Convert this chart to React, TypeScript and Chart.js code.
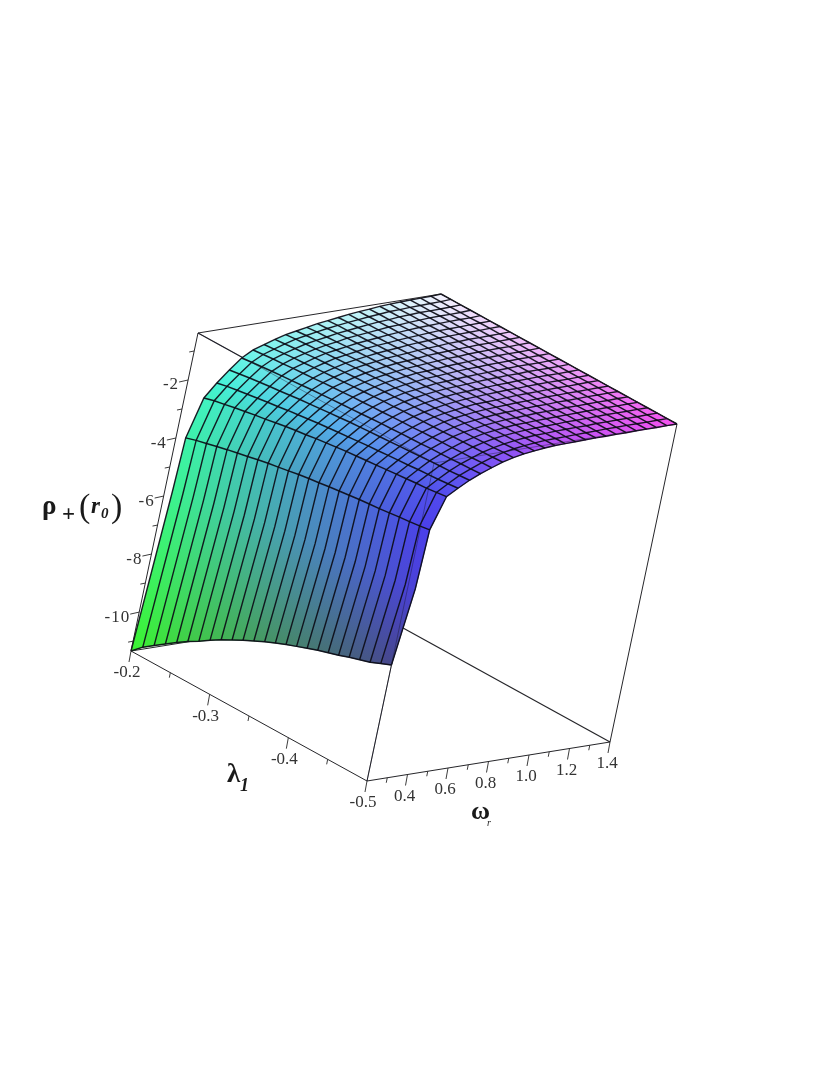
import React, { useEffect, useRef } from "react";
import { Chart, registerables } from "chart.js";

Chart.register(...registerables);

const lambdaValues = [-0.2, -0.2125, -0.225, -0.2375, -0.25, -0.2625, -0.275, -0.2875, -0.3, -0.3125, -0.325, -0.3375, -0.35, -0.3625, -0.375, -0.3875, -0.4, -0.4125, -0.425, -0.4375, -0.45, -0.4625, -0.475, -0.4875, -0.5];
const omegaValues = [0.2, 0.25, 0.3, 0.35, 0.4, 0.45, 0.5, 0.55, 0.6, 0.65, 0.7, 0.75, 0.8, 0.85, 0.9, 0.95, 1.0, 1.05, 1.1, 1.15, 1.2, 1.25, 1.3, 1.35, 1.4];

// rho+(r0): one row per lambda value, one column per omega value
const rhoValues = [
  [-11.34, -4.05, -2.73, -2.27, -1.88, -1.52, -1.30, -1.17, -1.05, -0.94, -0.87, -0.80, -0.73, -0.68, -0.63, -0.58, -0.54, -0.51, -0.47, -0.45, -0.43, -0.42, -0.41, -0.40, -0.38],
  [-11.02, -3.95, -2.64, -2.20, -1.83, -1.48, -1.27, -1.14, -1.02, -0.91, -0.84, -0.77, -0.71, -0.66, -0.61, -0.57, -0.53, -0.50, -0.46, -0.45, -0.43, -0.42, -0.41, -0.40, -0.38],
  [-10.78, -3.87, -2.58, -2.15, -1.78, -1.45, -1.24, -1.11, -0.99, -0.89, -0.82, -0.76, -0.69, -0.65, -0.60, -0.56, -0.52, -0.50, -0.46, -0.44, -0.42, -0.42, -0.41, -0.40, -0.38],
  [-10.54, -3.79, -2.51, -2.10, -1.74, -1.42, -1.22, -1.08, -0.97, -0.87, -0.80, -0.74, -0.67, -0.63, -0.59, -0.55, -0.51, -0.49, -0.46, -0.44, -0.42, -0.41, -0.41, -0.40, -0.38],
  [-10.30, -3.71, -2.45, -2.05, -1.70, -1.39, -1.19, -1.06, -0.94, -0.84, -0.78, -0.72, -0.66, -0.62, -0.58, -0.54, -0.51, -0.48, -0.45, -0.44, -0.42, -0.41, -0.40, -0.40, -0.38],
  [-10.08, -3.64, -2.39, -2.00, -1.67, -1.37, -1.17, -1.03, -0.92, -0.82, -0.76, -0.70, -0.64, -0.60, -0.57, -0.53, -0.50, -0.48, -0.45, -0.43, -0.42, -0.41, -0.40, -0.39, -0.38],
  [-9.88, -3.57, -2.34, -1.96, -1.63, -1.34, -1.15, -1.01, -0.90, -0.80, -0.74, -0.68, -0.63, -0.59, -0.56, -0.52, -0.49, -0.47, -0.44, -0.43, -0.42, -0.41, -0.40, -0.39, -0.38],
  [-9.66, -3.50, -2.28, -1.91, -1.59, -1.31, -1.12, -0.99, -0.88, -0.78, -0.72, -0.67, -0.61, -0.58, -0.55, -0.51, -0.49, -0.47, -0.44, -0.43, -0.41, -0.41, -0.40, -0.39, -0.38],
  [-9.46, -3.43, -2.22, -1.87, -1.56, -1.29, -1.10, -0.97, -0.86, -0.77, -0.71, -0.65, -0.60, -0.57, -0.54, -0.50, -0.48, -0.46, -0.44, -0.43, -0.41, -0.41, -0.40, -0.39, -0.38],
  [-9.28, -3.38, -2.17, -1.83, -1.53, -1.27, -1.08, -0.95, -0.84, -0.75, -0.69, -0.64, -0.59, -0.56, -0.53, -0.50, -0.47, -0.46, -0.43, -0.42, -0.41, -0.40, -0.40, -0.39, -0.38],
  [-9.10, -3.32, -2.13, -1.79, -1.50, -1.25, -1.06, -0.93, -0.82, -0.73, -0.67, -0.62, -0.57, -0.55, -0.52, -0.49, -0.47, -0.45, -0.43, -0.42, -0.41, -0.40, -0.40, -0.39, -0.38],
  [-8.94, -3.26, -2.08, -1.76, -1.47, -1.23, -1.05, -0.91, -0.80, -0.72, -0.66, -0.61, -0.56, -0.54, -0.51, -0.48, -0.46, -0.45, -0.43, -0.42, -0.41, -0.40, -0.40, -0.39, -0.38],
  [-8.78, -3.21, -2.04, -1.73, -1.44, -1.21, -1.03, -0.89, -0.79, -0.70, -0.65, -0.60, -0.55, -0.53, -0.50, -0.48, -0.46, -0.45, -0.43, -0.42, -0.40, -0.40, -0.40, -0.39, -0.38],
  [-8.64, -3.17, -2.00, -1.70, -1.42, -1.19, -1.02, -0.88, -0.77, -0.69, -0.63, -0.58, -0.54, -0.52, -0.50, -0.47, -0.45, -0.44, -0.42, -0.42, -0.40, -0.40, -0.40, -0.39, -0.38],
  [-8.50, -3.12, -1.96, -1.67, -1.40, -1.17, -1.00, -0.86, -0.76, -0.68, -0.62, -0.57, -0.53, -0.51, -0.49, -0.47, -0.45, -0.44, -0.42, -0.41, -0.40, -0.40, -0.40, -0.39, -0.38],
  [-8.38, -3.08, -1.93, -1.64, -1.38, -1.16, -0.99, -0.85, -0.75, -0.67, -0.61, -0.56, -0.52, -0.50, -0.48, -0.46, -0.44, -0.44, -0.42, -0.41, -0.40, -0.40, -0.40, -0.39, -0.38],
  [-8.26, -3.04, -1.90, -1.62, -1.36, -1.14, -0.98, -0.84, -0.73, -0.66, -0.60, -0.55, -0.51, -0.50, -0.48, -0.46, -0.44, -0.43, -0.42, -0.41, -0.40, -0.40, -0.39, -0.38, -0.38],
  [-8.14, -3.00, -1.87, -1.59, -1.34, -1.13, -0.96, -0.83, -0.72, -0.64, -0.59, -0.54, -0.51, -0.49, -0.47, -0.45, -0.44, -0.43, -0.41, -0.41, -0.40, -0.40, -0.39, -0.38, -0.38],
  [-8.04, -2.97, -1.84, -1.57, -1.32, -1.12, -0.95, -0.82, -0.71, -0.63, -0.58, -0.54, -0.50, -0.48, -0.47, -0.45, -0.43, -0.43, -0.41, -0.41, -0.40, -0.39, -0.39, -0.38, -0.38],
  [-7.94, -2.94, -1.81, -1.55, -1.30, -1.10, -0.94, -0.80, -0.70, -0.63, -0.57, -0.53, -0.49, -0.48, -0.46, -0.44, -0.43, -0.43, -0.41, -0.41, -0.40, -0.39, -0.39, -0.38, -0.38],
  [-7.82, -2.90, -1.78, -1.52, -1.28, -1.09, -0.93, -0.79, -0.69, -0.61, -0.56, -0.52, -0.48, -0.47, -0.45, -0.44, -0.43, -0.42, -0.41, -0.40, -0.40, -0.39, -0.39, -0.38, -0.38],
  [-7.72, -2.86, -1.75, -1.50, -1.26, -1.08, -0.92, -0.78, -0.68, -0.60, -0.55, -0.51, -0.48, -0.46, -0.45, -0.44, -0.42, -0.42, -0.41, -0.40, -0.39, -0.39, -0.39, -0.38, -0.38],
  [-7.62, -2.83, -1.73, -1.48, -1.25, -1.06, -0.91, -0.77, -0.67, -0.60, -0.54, -0.50, -0.47, -0.46, -0.44, -0.43, -0.42, -0.42, -0.40, -0.40, -0.39, -0.39, -0.39, -0.38, -0.38],
  [-7.48, -2.79, -1.69, -1.45, -1.22, -1.05, -0.89, -0.76, -0.65, -0.58, -0.53, -0.49, -0.46, -0.45, -0.44, -0.43, -0.42, -0.41, -0.40, -0.40, -0.39, -0.39, -0.39, -0.38, -0.38],
  [-7.34, -2.74, -1.65, -1.42, -1.20, -1.03, -0.88, -0.74, -0.64, -0.57, -0.52, -0.48, -0.45, -0.44, -0.43, -0.42, -0.41, -0.41, -0.40, -0.40, -0.39, -0.39, -0.39, -0.38, -0.38],
];

// extra sample on the steep first strip (no mesh line is drawn along it)
const steepOmega = 0.24;
const steepRho = [-5.86, -5.77, -5.71, -5.64, -5.57, -5.51, -5.46, -5.40, -5.34, -5.29, -5.24, -5.20, -5.16, -5.12, -5.08, -5.05, -5.01, -4.98, -4.95, -4.92, -4.89, -4.86, -4.84, -4.80, -4.76];

const lambdaMajorTicks = [-0.2, -0.3, -0.4, -0.5];
const lambdaMinorTicks = [-0.25, -0.35, -0.45];
const lambdaTickLabels = ["-0.2", "-0.3", "-0.4", "-0.5"];
const omegaMajorTicks = [0.4, 0.6, 0.8, 1.0, 1.2, 1.4];
const omegaMinorTicks = [0.3, 0.5, 0.7, 0.9, 1.1, 1.3];
const omegaTickLabels = ["0.4", "0.6", "0.8", "1.0", "1.2", "1.4"];
const rhoMajorTicks = [-2, -4, -6, -8, -10];
const rhoMinorTicks = [-1, -3, -5, -7, -9, -11];
const rhoTickLabels = ["-2", "-4", "-6", "-8", "-10"];

// shading: rows follow omega position, columns follow lambda (near -0.2, middle, near -0.5)
const shadeOmegaStops = [0, 1, 3, 6, 12, 24];
const shadeColors = [
  [[60, 245, 50], [70, 150, 100], [70, 70, 140]],
  [[60, 245, 170], [75, 150, 200], [75, 60, 235]],
  [[70, 245, 215], [85, 170, 235], [90, 80, 240]],
  [[120, 245, 235], [120, 170, 245], [120, 80, 245]],
  [[170, 245, 245], [170, 180, 245], [180, 80, 245]],
  [[245, 245, 255], [240, 170, 250], [245, 80, 240]],
];

const LAM0 = -0.2, LAM1 = -0.5, OM0 = 0.2, OM1 = 1.4, RHO0 = -11.34, RHO1 = -0.38;

function project(lam: number, om: number, rho: number) {
  const a = (lam - LAM0) / (LAM1 - LAM0);
  const b = (om - OM0) / (OM1 - OM0);
  const c = (rho - RHO0) / (RHO1 - RHO0);
  return { x: 131 + 236 * a + 243 * b + 67 * c, y: 651 + 130 * a - 39 * b - 318 * c };
}

function shade(j: number, i: number) {
  let s = 0;
  while (s < shadeOmegaStops.length - 2 && i > shadeOmegaStops[s + 1]) s++;
  const t = (i - shadeOmegaStops[s]) / (shadeOmegaStops[s + 1] - shadeOmegaStops[s]);
  const p = (j / 24) * 2;
  const k = Math.min(1, Math.floor(p));
  const q = p - k;
  const rgb = [0, 1, 2].map((n) => {
    const lo = shadeColors[s][k][n] * (1 - q) + shadeColors[s][k + 1][n] * q;
    const hi = shadeColors[s + 1][k][n] * (1 - q) + shadeColors[s + 1][k + 1][n] * q;
    return Math.round(lo * (1 - t) + hi * t);
  });
  return `rgb(${rgb[0]},${rgb[1]},${rgb[2]})`;
}

function lineSet(data: { x: number; y: number }[], color: string, width: number) {
  return { data, showLine: true, fill: false, borderColor: color, borderWidth: width, pointRadius: 0, tension: 0 };
}

function buildDatasets() {
  const layers: any[] = [];
  const L0 = LAM0, L1 = LAM1, O0 = OM0, O1 = OM1, Z0 = RHO0, Z1 = RHO1;
  const edge = "rgba(25,25,30,0.95)";
  const seg = (a: number[], b: number[], col = edge, w = 1) =>
    layers.push(lineSet([project(a[0], a[1], a[2]), project(b[0], b[1], b[2])], col, w));

  // surface samples along omega, including the extra one on the steep strip
  const rowOmega = [omegaValues[0], steepOmega, ...omegaValues.slice(1)];
  const rowShade = [0, 0.8, ...omegaValues.slice(1).map((_, i) => i + 1)];
  const rowRho = (j: number) => [rhoValues[j][0], steepRho[j], ...rhoValues[j].slice(1)];

  // box edges behind the surface
  seg([L0, O1, Z0], [L1, O1, Z0], edge, 1.2);
  seg([L0, O0, Z0], [L0, O1, Z0]);
  seg([L0, O0, Z1], [L1, O0, Z1], edge, 1.2);
  seg([L1, O0, Z0], [L1, O0, Z1]);

  // surface patches
  for (let j = 0; j < lambdaValues.length - 1; j++) {
    const r0 = rowRho(j), r1 = rowRho(j + 1);
    for (let i = 0; i < rowOmega.length - 1; i++) {
      const corners = [
        project(lambdaValues[j], rowOmega[i], r0[i]),
        project(lambdaValues[j + 1], rowOmega[i], r1[i]),
        project(lambdaValues[j + 1], rowOmega[i + 1], r1[i + 1]),
        project(lambdaValues[j], rowOmega[i + 1], r0[i + 1]),
      ];
      const startColor = shade(j + 0.5, rowShade[i]);
      const endColor = shade(j + 0.5, rowShade[i + 1]);
      const paint = (ctx: any) => {
        const chart = ctx.chart;
        const sx = chart.scales.x, sy = chart.scales.y;
        if (!sx || !sy) return startColor;
        const x0 = sx.getPixelForValue((corners[0].x + corners[1].x) / 2);
        const y0 = sy.getPixelForValue((corners[0].y + corners[1].y) / 2);
        const x1 = sx.getPixelForValue((corners[2].x + corners[3].x) / 2);
        const y1 = sy.getPixelForValue((corners[2].y + corners[3].y) / 2);
        if (![x0, y0, x1, y1].every(Number.isFinite)) return startColor;
        const g = chart.ctx.createLinearGradient(x0, y0, x1, y1);
        g.addColorStop(0, startColor);
        g.addColorStop(1, endColor);
        return g;
      };
      layers.push({
        data: corners,
        showLine: true,
        fill: "shape",
        borderWidth: 1,
        borderColor: paint,
        pointRadius: 0,
        tension: 0,
        backgroundColor: paint,
      });
    }
  }

  // mesh lines
  const mesh = "rgba(12,12,22,0.92)";
  lambdaValues.forEach((lam, j) => {
    const r = rowRho(j);
    layers.push(lineSet(rowOmega.map((om, i) => project(lam, om, r[i])), mesh, 1.4));
  });
  omegaValues.forEach((om, i) => {
    layers.push(lineSet(lambdaValues.map((lam, j) => project(lam, om, rhoValues[j][i])), mesh, 1.5));
  });

  // box edges in front / showing through
  seg([L0, O0, Z0], [L0, O0, Z1]);
  seg([L0, O0, Z1], [L0, O1, Z1]);
  seg([L0, O1, Z1], [L1, O1, Z1]);
  seg([L1, O1, Z1], [L1, O1, Z0]);
  seg([L1, O1, Z0], [L1, O0, Z0]);
  seg([L1, O0, Z0], [L0, O0, Z0]);
  seg([L0, O0, Z1], [L1, O0, Z1], "rgba(20,20,40,0.4)");
  seg([L1, O0, Z1], [L1, O1, Z1], "rgba(20,20,40,0.4)");
  seg([L1, O0, Z0], [L1, O0, Z1], "rgba(20,20,40,0.4)");

  // ticks
  const tick = (p: { x: number; y: number }, dx: number, dy: number) =>
    layers.push(lineSet([p, { x: p.x + dx, y: p.y + dy }], "rgba(40,40,40,0.9)", 1));
  lambdaMajorTicks.forEach((l) => tick(project(l, O0, Z0), -2, 11));
  lambdaMinorTicks.forEach((l) => tick(project(l, O0, Z0), -1, 5));
  omegaMajorTicks.forEach((o) => tick(project(L1, o, Z0), -2, 11));
  omegaMinorTicks.forEach((o) => tick(project(L1, o, Z0), -1, 5));
  rhoMajorTicks.forEach((r) => tick(project(L0, O0, r), -9, 2));
  rhoMinorTicks.forEach((r) => tick(project(L0, O0, r), -5, 1));
  return layers;
}

const textPlugin = {
  id: "axisText",
  afterDatasetsDraw(chart: any) {
    const ctx = chart.ctx;
    const px = (p: { x: number; y: number }) => ({ x: chart.scales.x.getPixelForValue(p.x), y: chart.scales.y.getPixelForValue(p.y) });
    ctx.save();
    ctx.fillStyle = "#333";
    ctx.textBaseline = "middle";
    ctx.font = '17px "Liberation Serif"';
    ctx.textAlign = "center";
    lambdaMajorTicks.forEach((l, k) => {
      const p = px(project(l, OM0, RHO0));
      ctx.fillText(lambdaTickLabels[k], p.x - 4, p.y + 22);
    });
    omegaMajorTicks.forEach((o, k) => {
      const p = px(project(LAM1, o, RHO0));
      ctx.fillText(omegaTickLabels[k], p.x - 3, p.y + 22);
    });
    ctx.textAlign = "right";
    ctx.letterSpacing = "1px";
    rhoMajorTicks.forEach((r, k) => {
      const p = px(project(LAM0, OM0, r));
      ctx.fillText(rhoTickLabels[k], p.x - 9, p.y + 5);
    });
    ctx.letterSpacing = "0px";

    ctx.fillStyle = "#1a1a1a";
    ctx.textAlign = "left";
    ctx.font = 'bold 27px "Liberation Serif"';
    ctx.fillText("ρ", 42, 507);
    ctx.font = 'bold 23px "Liberation Serif"';
    ctx.fillText("+", 62, 515);
    ctx.font = '34px "Liberation Serif"';
    ctx.fillText("(", 79, 508);
    ctx.fillText(")", 111, 508);
    ctx.font = 'italic bold 23px "Liberation Serif"';
    ctx.fillText("r", 91, 507);
    ctx.font = 'italic bold 15px "Liberation Serif"';
    ctx.fillText("0", 101, 514);
    ctx.font = 'bold 27px "Liberation Serif"';
    ctx.fillText("λ", 227, 775);
    ctx.font = 'italic bold 18px "Liberation Serif"';
    ctx.fillText("1", 240, 786);
    ctx.font = 'bold 26px "Liberation Serif"';
    ctx.fillText("ω", 471, 812);
    ctx.font = 'italic 10px "Liberation Serif"';
    ctx.fillText("r", 487, 823);
    ctx.restore();
  },
};

export default function App() {
  const ref = useRef<HTMLCanvasElement>(null);
  useEffect(() => {
    if (!ref.current) return;
    const chart = new Chart(ref.current, {
      type: "scatter",
      data: { datasets: buildDatasets().reverse() },
      options: {
        animation: false,
        responsive: false,
        events: [],
        layout: { padding: 0 },
        plugins: { legend: { display: false }, tooltip: { enabled: false }, title: { display: false } },
        scales: {
          x: { type: "linear", display: false, min: 0, max: 830 },
          y: { type: "linear", display: false, min: 0, max: 1075, reverse: true },
        },
      },
      plugins: [textPlugin],
    } as any);
    return () => chart.destroy();
  }, []);
  return (
    <div style={{ position: "absolute", left: 0, top: 0, width: 830, height: 1075, background: "#fff", filter: "blur(0.6px)" }}>
      <canvas ref={ref} width={830} height={1075} style={{ display: "block" }} />
    </div>
  );
}
